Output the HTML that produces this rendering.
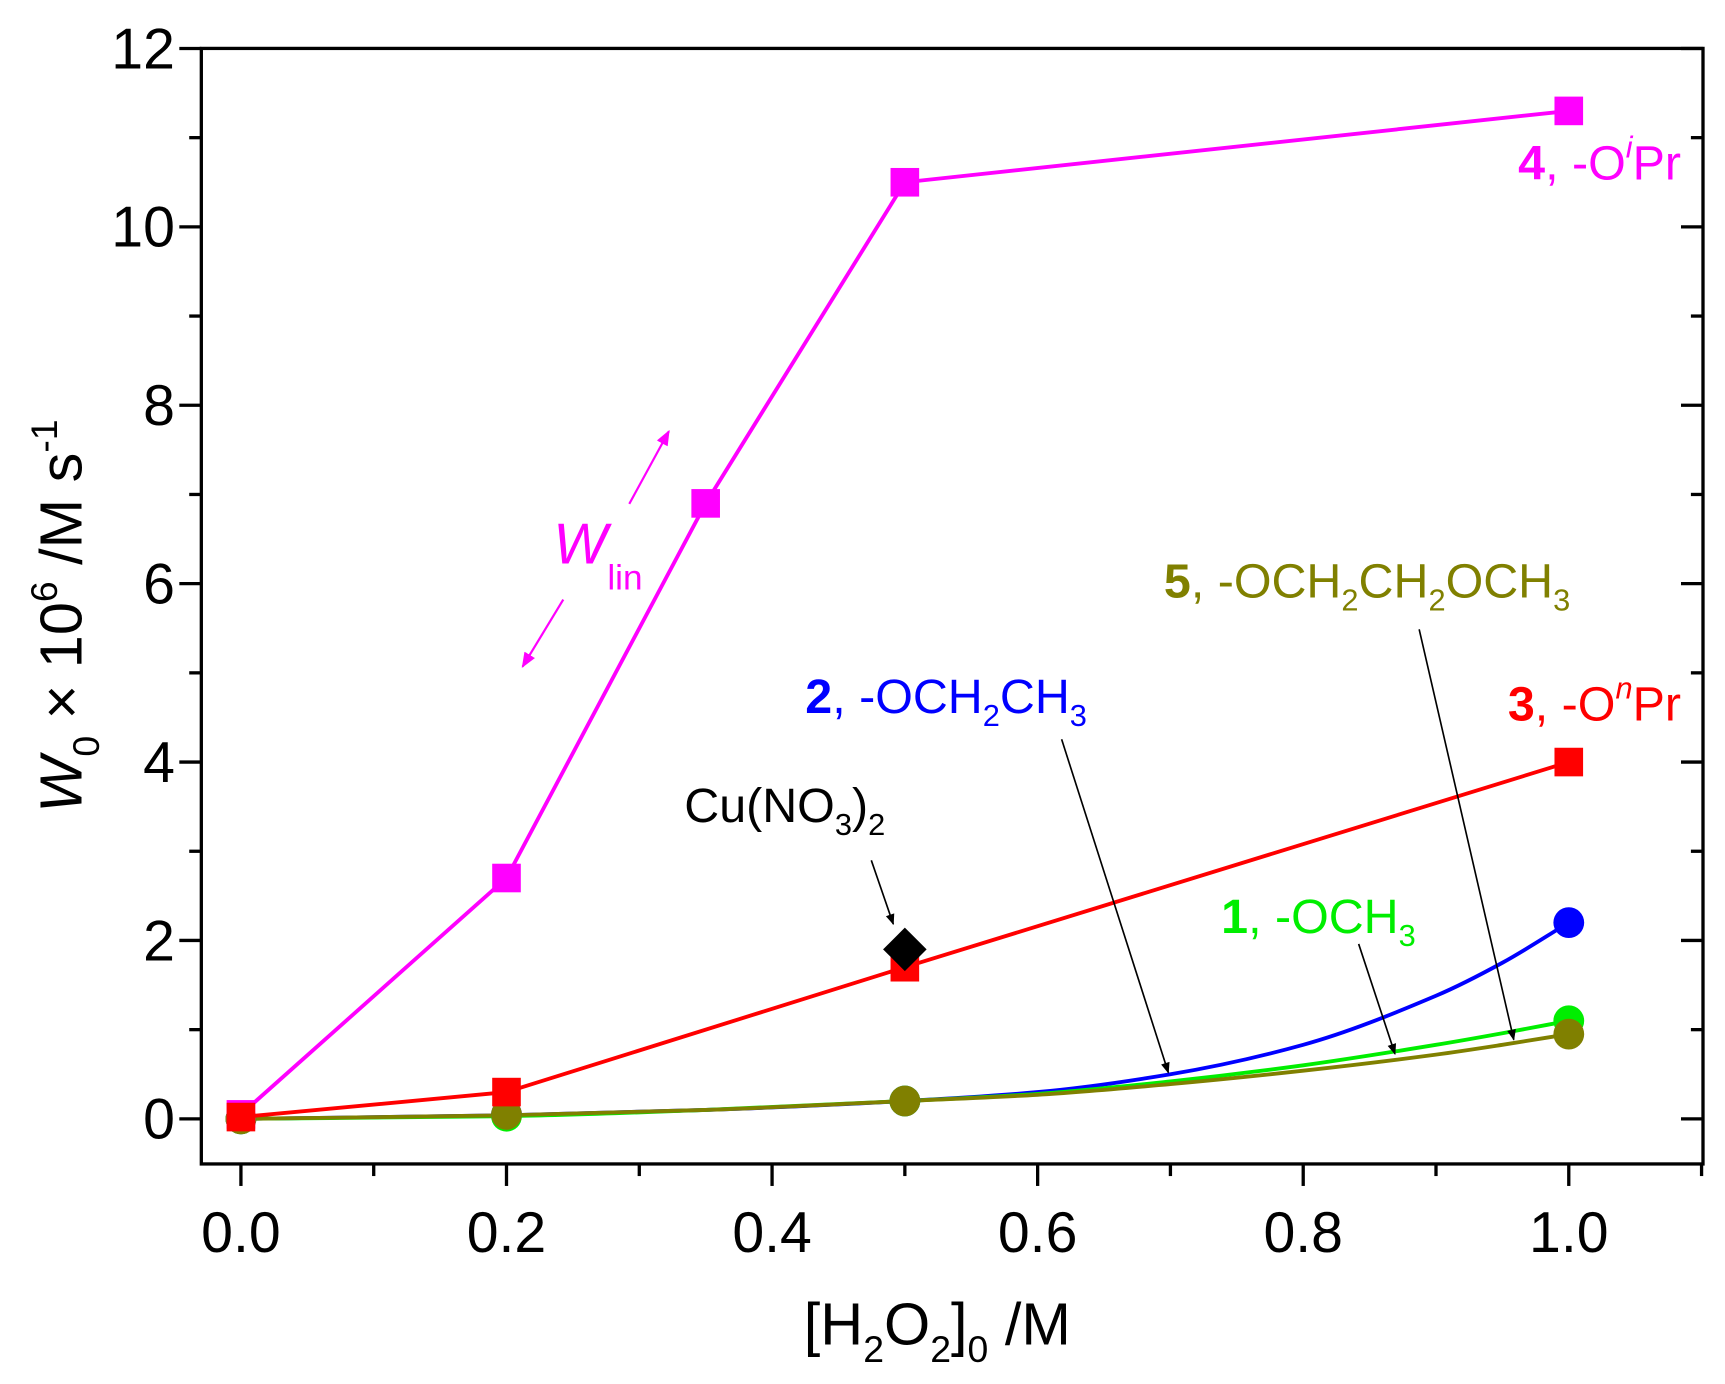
<!DOCTYPE html>
<html><head><meta charset="utf-8"><style>
html,body{margin:0;padding:0;background:#fff}
svg{display:block}
text{font-family:"Liberation Sans",sans-serif}
</style></head><body>
<svg id="chart" width="1725" height="1384" viewBox="0 0 1568 1258" xmlns="http://www.w3.org/2000/svg">
<defs>
<marker id="ah" viewBox="0 0 10 10" refX="9" refY="5" markerWidth="12" markerHeight="10" orient="auto-start-reverse" markerUnits="userSpaceOnUse"><path d="M0,1 L10,5 L0,9 z" fill="#000"/></marker>
<marker id="ahm" viewBox="0 0 10 10" refX="9" refY="5" markerWidth="14" markerHeight="14" orient="auto-start-reverse" markerUnits="userSpaceOnUse"><path d="M0,1 L10,5 L0,9 z" fill="#f0f"/></marker>
</defs>
<g id="plot"></g>
</svg>
<script>
const xTicks=[0,0.2,0.4,0.6,0.8,1.0];
const xTickLabels=["0.0","0.2","0.4","0.6","0.8","1.0"];
const yTicks=[0,2,4,6,8,10,12];
const yTickLabels=["0","2","4","6","8","10","12"];
const s4x=[0,0.2,0.35,0.5,1.0], s4y=[0.05,2.7,6.9,10.5,11.3];
const s3x=[0,0.2,0.5,1.0], s3y=[0.02,0.3,1.7,4.0];
const s2x=[0,0.2,0.5,1.0], s2y=[0,0.05,0.2,2.2];
const s1x=[0,0.2,0.5,1.0], s1y=[0,0.03,0.2,1.1];
const s5x=[0,0.2,0.5,1.0], s5y=[0,0.05,0.2,0.95];
// fitted curves
const fitX=[0,0.2,0.35,0.5,0.6,0.7,0.8,0.9,0.95,1.0];
const fit2y=[0,0.04,0.1,0.2,0.3,0.5,0.83,1.38,1.75,2.2];
const fit1y=[0,0.03,0.1,0.2,0.28,0.42,0.6,0.83,0.96,1.1];
const fit5y=[0,0.04,0.1,0.2,0.27,0.39,0.54,0.72,0.83,0.95];
const cuX=[0.5], cuY=[1.9];

const X=v=>219+v*1207, Y=v=>1017-v*81.08;
const L=183,R=1548,T=44,B=1058;
const NS="http://www.w3.org/2000/svg";
const g=document.getElementById('plot');
function mk(tag,attrs,parent){const e=document.createElementNS(NS,tag);for(const k in attrs)e.setAttribute(k,attrs[k]);(parent||g).appendChild(e);return e;}

let fr=mk('rect',{x:L,y:T,width:R-L,height:B-T,fill:'none',stroke:'#000','stroke-width':3});



for(let i=0;i<=11;i++){const v=i/10;const major=i%2===0;
 let t=mk('line',{x1:X(v),x2:X(v),y1:B,y2:B+(major?20:11),stroke:'#000','stroke-width':3});
 
 
}
xTicks.forEach((v,i)=>{let t=mk('text',{x:X(v),y:B+80,'font-size':52,'text-anchor':'middle'});t.textContent=xTickLabels[i];
 
 });
for(let i=0;i<=12;i++){const major=i%2===0;
 let t=mk('line',{x1:L,x2:L-(major?20:11),y1:Y(i),y2:Y(i),stroke:'#000','stroke-width':3});
 
 
 let t2=mk('line',{x1:R,x2:R-(major?20:11),y1:Y(i),y2:Y(i),stroke:'#000','stroke-width':3});
 
 
}
yTicks.forEach((v,i)=>{let t=mk('text',{x:L-24,y:Y(v)+18,'font-size':52,'text-anchor':'end'});t.textContent=yTickLabels[i];
 
 });

function poly(xs,ys,color,name){let p=mk('polyline',{points:xs.map((x,i)=>X(x)+','+Y(ys[i])).join(' '),fill:'none',stroke:color,'stroke-width':3.5});
 
 }
function smooth(xs,ys,color,name){
 const n=xs.length,px=xs.map(X),py=ys.map(Y);const d=[],m=[];
 for(let i=0;i<n-1;i++)d.push((py[i+1]-py[i])/(px[i+1]-px[i]));
 m[0]=d[0];m[n-1]=d[n-2];
 for(let i=1;i<n-1;i++){m[i]=(d[i-1]*d[i]<=0)?0:2/(1/d[i-1]+1/d[i]);}
 let s='M'+px[0]+','+py[0];
 for(let i=0;i<n-1;i++){const h=(px[i+1]-px[i])/3;s+=' C'+(px[i]+h)+','+(py[i]+m[i]*h)+' '+(px[i+1]-h)+','+(py[i+1]-m[i+1]*h)+' '+px[i+1]+','+py[i+1];}
 let p=mk('path',{d:s,fill:'none',stroke:color,'stroke-width':3.5});
 
 }
function squares(xs,ys,color,name){xs.forEach((x,i)=>{let r=mk('rect',{x:X(x)-13,y:Y(ys[i])-13,width:26,height:26,fill:color});
 
 });}
function circles(xs,ys,color,name){xs.forEach((x,i)=>{let r=mk('circle',{cx:X(x),cy:Y(ys[i]),r:14,fill:color});
 
 });}

smooth(fitX,fit2y,'#0000ff','series-2-line');
smooth(fitX,fit1y,'#00ee00','series-1-line');
smooth(fitX,fit5y,'#808000','series-5-line');
circles(s2x,s2y,'#0000ff','series-2-point');
circles(s1x,s1y,'#00ee00','series-1-point');
circles(s5x,s5y,'#808000','series-5-point');
poly(s4x,s4y,'#ff00ff','series-4-line');
squares(s4x,s4y,'#ff00ff','series-4-point');
poly(s3x,s3y,'#ff0000','series-3-line');
squares(s3x,s3y,'#ff0000','series-3-point');
cuX.forEach((x,i)=>{let r=mk('rect',{x:X(x)-14,y:Y(cuY[i])-14,width:28,height:28,fill:'#000',transform:`rotate(45 ${X(x)} ${Y(cuY[i])})`});
 
 });

function arrow(x1,y1,x2,y2,name,mid){let a=mk('line',{x1,y1,x2,y2,stroke:mid||'#000','stroke-width':mid?2:1.5,'marker-end':mid?'url(#ahm)':'url(#ah)'});
 
 }
arrow(792,782,812,840,'cu-arrow');
arrow(965,672,1062,975,'series-2-arrow');
arrow(1235,858,1268,958,'series-1-arrow');
arrow(1290,572,1376,945,'series-5-arrow');
arrow(572,458,608,392,'wlin-arrow-up','#ff00ff');
arrow(512,545,475,606,'wlin-arrow-down','#ff00ff');
</script>
<svg style="position:absolute;left:0;top:0" width="1725" height="1384" viewBox="0 0 1568 1258" xmlns="http://www.w3.org/2000/svg">
<text x="1528" y="163" font-size="44" fill="#ff00ff" text-anchor="end"><tspan font-weight="bold">4</tspan>, -O<tspan font-style="italic" font-size="28" dy="-20">i</tspan><tspan dy="20">Pr</tspan></text>
<text x="1528" y="655" font-size="44" fill="#ff0000" text-anchor="end"><tspan font-weight="bold">3</tspan>, -O<tspan font-style="italic" font-size="28" dy="-20">n</tspan><tspan dy="20">Pr</tspan></text>
<text x="732" y="648" font-size="44" fill="#0000ff"><tspan font-weight="bold">2</tspan>, -OCH<tspan font-size="28" dy="12">2</tspan><tspan dy="-12">CH</tspan><tspan font-size="28" dy="12">3</tspan></text>
<text x="1058" y="543" font-size="44" fill="#808000"><tspan font-weight="bold">5</tspan>, -OCH<tspan font-size="28" dy="12">2</tspan><tspan dy="-12">CH</tspan><tspan font-size="28" dy="12">2</tspan><tspan dy="-12">OCH</tspan><tspan font-size="28" dy="12">3</tspan></text>
<text x="1110" y="848" font-size="44" fill="#00ee00"><tspan font-weight="bold">1</tspan>, -OCH<tspan font-size="28" dy="12">3</tspan></text>
<text x="622" y="747" font-size="44" fill="#000">Cu(NO<tspan font-size="28" dy="12">3</tspan><tspan dy="-12">)</tspan><tspan font-size="28" dy="12">2</tspan></text>
<text x="503" y="512" font-size="52" fill="#ff00ff" font-style="italic">W<tspan font-style="normal" font-size="32" dy="24">lin</tspan></text>
<text x="852" y="1222" font-size="54" text-anchor="middle">[H<tspan font-size="34" dy="16">2</tspan><tspan dy="-16">O</tspan><tspan font-size="34" dy="16">2</tspan><tspan dy="-16">]</tspan><tspan font-size="34" dy="16">0</tspan><tspan dy="-16"> /M</tspan></text>
<text transform="translate(74 560) rotate(-90)" font-size="54" text-anchor="middle"><tspan font-style="italic">W</tspan><tspan font-size="34" dy="16">0</tspan><tspan dy="-16"> × 10</tspan><tspan font-size="34" dy="-22">6</tspan><tspan dy="22"> /M s</tspan><tspan font-size="34" dy="-22">-1</tspan></text>
</svg>
</body></html>
